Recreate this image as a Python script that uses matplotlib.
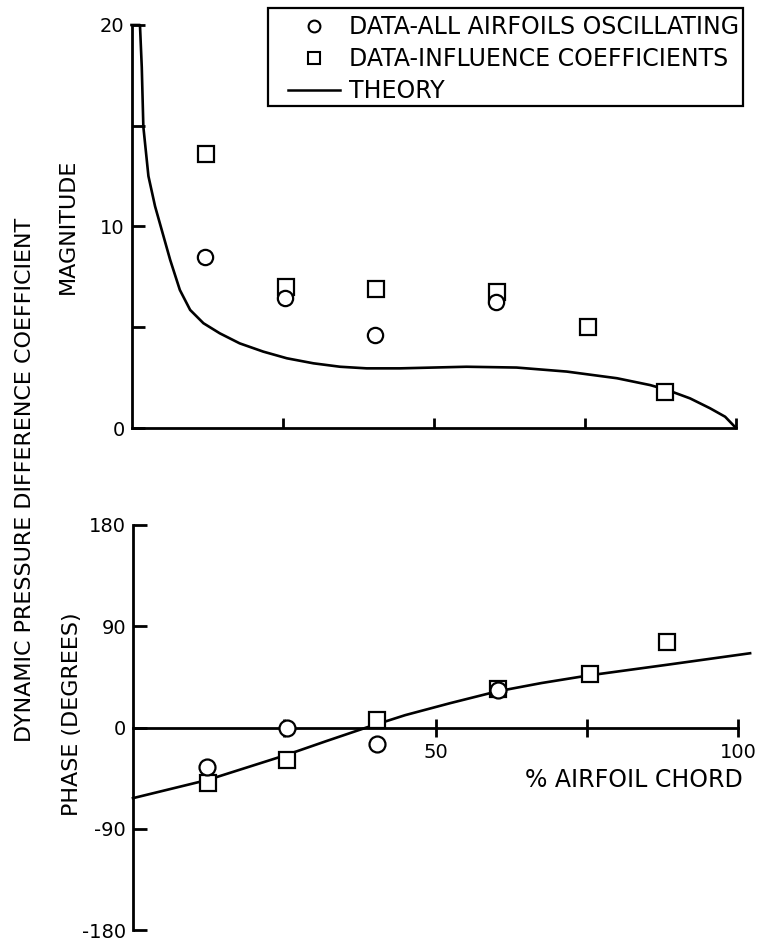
import matplotlib
matplotlib.use("Agg")
import matplotlib.pyplot as plt
from matplotlib.lines import Line2D
from matplotlib.patches import Rectangle

plt.rcParams['font.family'] = ['DejaVu Sans']
plt.rcParams['axes.unicode_minus'] = False

# ---------------- data ----------------
# Magnitude panel
theory_mag_x = [0, 1.4, 1.7, 1.96, 2.8, 3.9, 5.0, 6.4, 8.0, 9.7, 11.9, 14.6, 17.9,
                21.8, 25.7, 30.1, 34.5, 38.9, 44.4, 55.4, 63.7, 72.0, 80.3, 85.8,
                88.6, 92.4, 95.7, 98.2, 100.0]
theory_mag_y = [20.0, 20.0, 17.9, 14.95, 12.5, 11.0, 9.83, 8.34, 6.85, 5.86, 5.2, 4.7, 4.2,
                3.79, 3.46, 3.21, 3.04, 2.96, 2.96, 3.04, 3.0, 2.8, 2.47, 2.13,
                1.89, 1.47, 0.98, 0.56, 0.0]

circ_x = [12.2, 25.4, 40.3, 60.3]
circ_mag = [8.5, 6.45, 4.6, 6.25]
sq_x = [12.4, 25.5, 40.4, 60.4, 75.5, 88.3]
sq_mag = [13.6, 7.0, 6.9, 6.75, 5.0, 1.8]

# Phase panel
theory_ph_x = [0, 12.4, 25.4, 32.0, 38.6, 45.0, 52.4, 60.1, 67.5, 75.2, 88.2, 102.0]
theory_ph_y = [-62.8, -46.5, -24.3, -12.0, 0.0, 11.0, 21.6, 32.0, 39.5, 46.2, 55.7, 66.0]

circ_ph = [-34.7, 0.0, -15.0, 33.0]
sq_ph = [-49.0, -29.0, 7.0, 34.0, 48.0, 76.0]

mag_major = [0, 10, 20]
mag_minor = [5, 15]
x_ticks_top = [25, 50, 75, 100]
ph_ticks = [-180, -90, 0, 90, 180]
ph_labels = ['-180', '-90', '0', '90', '180']
x_ticks_bot = [25, 50, 75, 100]
x_labels_bot = ['', '50', '', '100']

legend_labels = ['DATA-ALL AIRFOILS OSCILLATING', 'DATA-INFLUENCE COEFFICIENTS', 'THEORY']

# ---------------- figure ----------------
W, H = 763, 942
fig = plt.figure(figsize=(W / 100, H / 100), dpi=100)

FS = 14      # tick labels
LFS = 16     # axis labels
LEGFS = 17   # legend / x label
LW = 1.9
SPW = 2.0

ax1 = fig.add_axes([131.5 / W, 1 - 428 / H, 604.5 / W, 403 / H])
ax2 = fig.add_axes([133 / W, 1 - 930 / H, 605 / W, 405 / H])

# --- top: magnitude ---
ax1.plot(theory_mag_x, theory_mag_y, color='black', lw=LW, zorder=2, clip_on=False,
         solid_joinstyle='round')
ax1.plot(sq_x, sq_mag, linestyle='none', marker='s', ms=12, mfc='white', mec='black',
         mew=1.6, zorder=3, clip_on=False)
ax1.plot(circ_x, circ_mag, linestyle='none', marker='o', ms=11, mfc='white', mec='black',
         mew=1.6, zorder=4, clip_on=False)
ax1.set_xlim(0, 100)
ax1.set_ylim(0, 20)
for s in ['top', 'right']:
    ax1.spines[s].set_visible(False)
for s in ['left', 'bottom']:
    ax1.spines[s].set_linewidth(SPW)
ax1.set_yticks(mag_major)
ax1.set_yticklabels([str(v) for v in mag_major])
ax1.set_yticks(mag_minor, minor=True)
ax1.set_xticks(x_ticks_top)
ax1.set_xticklabels([])
ax1.tick_params(axis='y', which='both', direction='in', length=9, width=SPW,
                labelsize=FS, pad=5)
ax1.tick_params(axis='x', which='both', direction='in', length=7, width=SPW)
ax1.set_ylabel('MAGNITUDE', fontsize=LFS, va='center')
ax1.yaxis.set_label_coords(-0.105, 0.50)

# --- bottom: phase ---
ax2.plot(theory_ph_x, theory_ph_y, color='black', lw=LW, zorder=2, clip_on=False,
         solid_joinstyle='round')
ax2.plot(sq_x, sq_ph, linestyle='none', marker='s', ms=12, mfc='white', mec='black',
         mew=1.6, zorder=3, clip_on=False)
ax2.plot(circ_x, circ_ph, linestyle='none', marker='o', ms=11.5, mfc='white', mec='black',
         mew=1.6, zorder=4, clip_on=False)
ax2.set_xlim(0, 100)
ax2.set_ylim(-180, 180)
for s in ['top', 'right']:
    ax2.spines[s].set_visible(False)
ax2.spines['left'].set_linewidth(SPW)
ax2.spines['bottom'].set_linewidth(SPW)
ax2.spines['bottom'].set_position(('data', 0))
ax2.spines['bottom'].set_bounds(0, 100)
ax2.set_yticks(ph_ticks)
ax2.set_yticklabels(ph_labels)
ax2.set_xticks(x_ticks_bot)
ax2.set_xticklabels(x_labels_bot)
ax2.tick_params(axis='y', direction='in', length=10, width=SPW, labelsize=FS, pad=5)
ax2.tick_params(axis='x', direction='inout', length=13, width=SPW, labelsize=FS, pad=5)
ax2.set_ylabel('PHASE (DEGREES)', fontsize=LFS, va='center')
ax2.yaxis.set_label_coords(-0.101, 0.533)
ax2.set_xlabel('% AIRFOIL CHORD', fontsize=LEGFS, ha='right', va='center')
ax2.xaxis.set_label_coords(1.008, 0.370)

# --- shared y label ---
fig.text(25 / W, 1 - 480 / H, 'DYNAMIC PRESSURE DIFFERENCE COEFFICIENT',
         rotation=90, ha='center', va='center', fontsize=LFS)

# --- legend (frameless) plus a separate frame rectangle ---
handles = [
    Line2D([], [], linestyle='none', marker='o', ms=8.5, mfc='white', mec='black', mew=1.5),
    Line2D([], [], linestyle='none', marker='s', ms=8.5, mfc='white', mec='black', mew=1.5),
    Line2D([], [], color='black', lw=1.8),
]
leg = ax1.legend(handles, legend_labels, loc='upper left',
                 bbox_to_anchor=(288 / W, 1 - 15 / H), bbox_transform=fig.transFigure,
                 borderaxespad=0, borderpad=0, fontsize=LEGFS, frameon=False,
                 handlelength=2.2, handletextpad=0.4, labelspacing=0.34)
frame = Rectangle((268 / W, 1 - 106 / H), (743 - 268) / W, (106 - 8) / H,
                  transform=fig.transFigure, fill=False, edgecolor='black',
                  linewidth=1.6, zorder=5)
fig.patches.append(frame)

fig.savefig('out.png', dpi=100)
